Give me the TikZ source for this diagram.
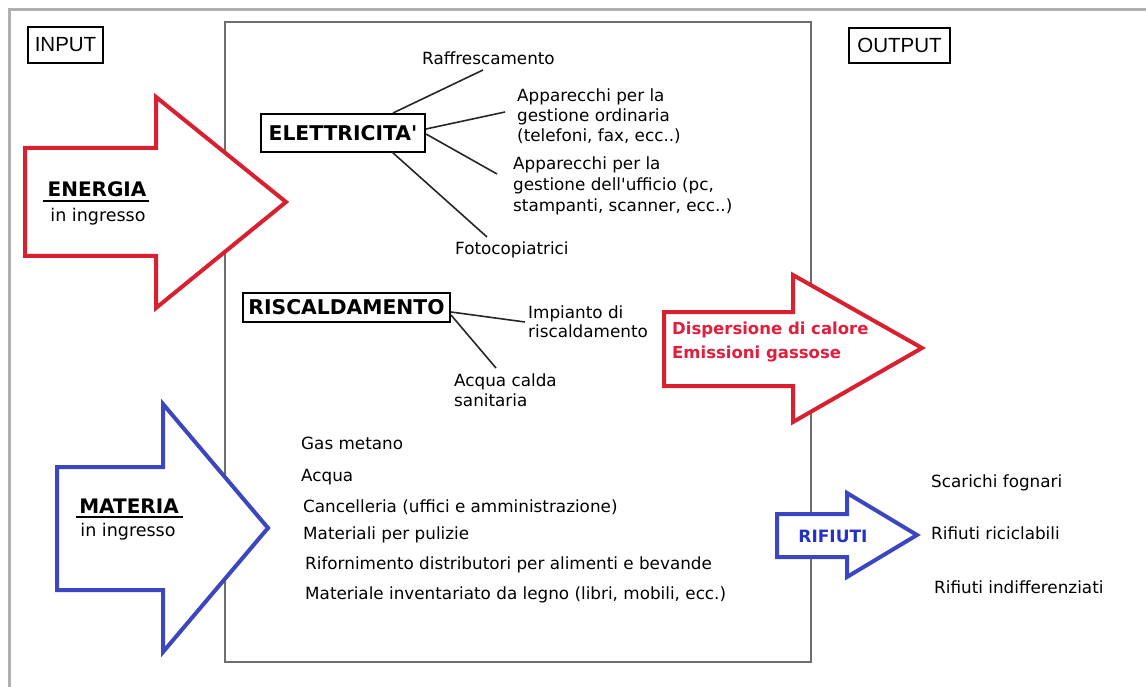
\documentclass[tikz,border=0pt]{standalone}
\usepackage{fontspec}
\setmainfont{DejaVu Sans}
\newfontfamily\arialf{Liberation Sans}
\definecolor{arrred}{RGB}{216,32,48}
\definecolor{arrblue}{RGB}{60,70,192}
\definecolor{txtred}{RGB}{226,30,60}
\definecolor{txtblue}{RGB}{36,50,200}
\definecolor{framegray}{RGB}{175,175,175}
\definecolor{boxgray}{RGB}{110,110,110}
\tikzset{
  reg/.style={font=\fontsize{16.8}{20}\selectfont, inner sep=0pt, anchor=west, align=left, text=black},
  iobox/.style={draw, line width=1.5pt, inner sep=0pt, font=\arialf\fontsize{20.5}{22}\selectfont},
  catbox/.style={draw, line width=2pt, inner sep=0pt, font=\bfseries\fontsize{20.3}{22}\selectfont},
  bigarrow/.style={line width=4pt, line join=miter, miter limit=10, fill=white},
  conn/.style={line width=1.6pt, black!85},
  heading/.style={font=\bfseries\fontsize{20}{22}\selectfont, inner sep=0pt},
  sub/.style={font=\fontsize{17.5}{20}\selectfont, inner sep=0pt}
}
\begin{document}
\begin{tikzpicture}[x=1pt,y=-1pt]
\useasboundingbox (0,0) rectangle (1146,687);
\fill[white] (0,0) rectangle (1146,687);
% outer frame
\draw[framegray, line width=3pt] (9,687) -- (9,10) -- (1146,10);
% central box
\draw[boxgray, line width=1.3pt] (225,22) rectangle (811,662);

% INPUT / OUTPUT
\node[iobox, minimum width=75pt, minimum height=36pt] (inp) at (65.5,45) {INPUT};
\node[iobox, minimum width=101pt, minimum height=35pt] (outp) at (899.5,45.5) {OUTPUT};

% ENERGIA arrow
\draw[bigarrow, draw=arrred] (25,148) -- (156,148) -- (156,97) -- (286,202) -- (156,308) -- (156,256) -- (25,256) -- cycle;
\node[heading] (en) at (97,189) {ENERGIA};
\draw[line width=2pt] (43,201) -- (149,201);
\node[sub] (enin) at (98,217) {in ingresso};

% MATERIA arrow
\draw[bigarrow, draw=arrblue] (57,467) -- (163,467) -- (163,404) -- (268,528) -- (163,652) -- (163,590) -- (57,590) -- cycle;
\node[heading] (ma) at (129,506) {MATERIA};
\draw[line width=2pt] (76,517) -- (183,517);
\node[sub] (main) at (128,532) {in ingresso};

% Dispersione arrow
\draw[bigarrow, draw=arrred] (664,312) -- (793,312) -- (793,275) -- (922,348) -- (793,422) -- (793,386) -- (664,386) -- cycle;
\node[font=\bfseries\fontsize{16.5}{24}\selectfont, text=txtred, align=left, anchor=west, inner sep=0pt] (disp) at (672,342) {Dispersione di calore\\Emissioni gassose};

% RIFIUTI arrow
\draw[bigarrow, draw=arrblue] (777,514) -- (847,514) -- (847,493) -- (917,535) -- (847,577) -- (847,557) -- (777,557) -- cycle;
\node[font=\bfseries\fontsize{17}{20}\selectfont, text=txtblue, inner sep=0pt] (rif) at (833,536) {RIFIUTI};

% ELETTRICITA'
\node[catbox, minimum width=164pt, minimum height=38pt] (el) at (343,133) {ELETTRICITA\textquotesingle};
\node[reg] (raff) at (422,58) {Raffrescamento};
\node[reg, font=\fontsize{16.8}{20}\selectfont] (app1) at (517,116) {Apparecchi per la\\gestione ordinaria\\(telefoni, fax, ecc..)};
\node[reg, font=\fontsize{16.8}{21}\selectfont] (app2) at (513,186) {Apparecchi per la\\gestione dell\textquotesingle ufficio (pc,\\stampanti, scanner, ecc..)};
\node[reg] (foto) at (455,250) {Fotocopiatrici};
\coordinate (e1) at (393,113);
\coordinate (e2) at (426,129);
\coordinate (e3) at (426,134);
\coordinate (e4) at (392,152);
\coordinate (t1) at (483,70);
\coordinate (t2) at (505,112);
\coordinate (t3) at (497,174);
\coordinate (t4) at (487,237);
\draw[conn] (e1) -- (t1);
\draw[conn] (e2) -- (t2);
\draw[conn] (e3) -- (t3);
\draw[conn] (e4) -- (t4);

% RISCALDAMENTO
\node[catbox, minimum width=207pt, minimum height=29pt] (ri) at (346.5,307.5) {RISCALDAMENTO};
\node[reg, font=\fontsize{16.8}{19}\selectfont] (imp) at (528,321.5) {Impianto di\\riscaldamento};
\node[reg] (acq) at (454,390) {Acqua calda\\sanitaria};
\coordinate (r1) at (451,312);
\coordinate (r2) at (451,315);
\coordinate (s1) at (525,322);
\coordinate (s2) at (496,368);
\draw[conn] (r1) -- (s1);
\draw[conn] (r2) -- (s2);

% MATERIA list
\node[reg] (l1) at (301,443) {Gas metano};
\node[reg] (l2) at (301,477) {Acqua};
\node[reg] (l3) at (303,507) {Cancelleria (uffici e amministrazione)};
\node[reg] (l4) at (303,535) {Materiali per pulizie};
\node[reg] (l5) at (305,565) {Rifornimento distributori per alimenti e bevande};
\node[reg] (l6) at (305,595) {Materiale inventariato da legno (libri, mobili, ecc.)};

% RIFIUTI list
\node[reg] (w1) at (931,483) {Scarichi fognari};
\node[reg] (w2) at (931,533) {Rifiuti riciclabili};
\node[reg] (w3) at (934,587) {Rifiuti indifferenziati};
\end{tikzpicture}
\end{document}
